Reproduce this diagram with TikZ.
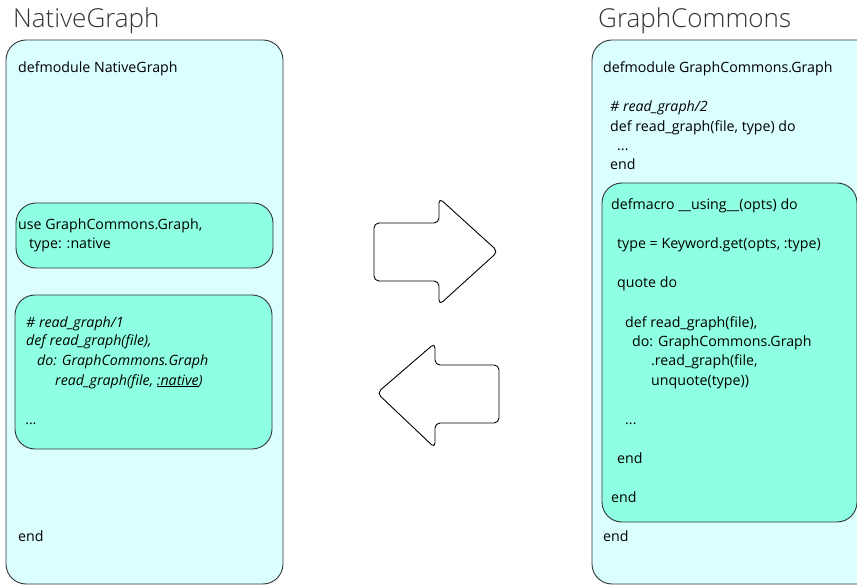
\documentclass[tikz,border=0pt]{standalone}
\usepackage{fontspec}
\setmainfont{Open Sans}
\newfontfamily\titlefont{Open Sans Light}
\definecolor{modfill}{HTML}{DBFEFF}
\definecolor{blockfill}{HTML}{8FFFE1}
\definecolor{edge}{HTML}{333333}
\tikzset{
  code/.style={anchor=base west,inner sep=0pt,font=\fontsize{14.2}{17}\selectfont},
  title/.style={anchor=base west,inner sep=0pt,font=\titlefont\fontsize{26}{31}\selectfont,text=black!80},
  module/.style={draw=edge,fill=modfill,line width=0.9pt,rounded corners=20pt},
  block/.style={draw=edge,fill=blockfill,line width=0.9pt,rounded corners=20pt},
  bigarrow/.style={draw=black,fill=white,line width=0.9pt,rounded corners=5pt}
}
\begin{document}
\begin{tikzpicture}[x=1pt,y=-1pt]
\useasboundingbox (0,0) rectangle (857,585);
\clip (0,0) rectangle (857,585);

% titles
\node[title] (tnative) at (13,28) {NativeGraph};
\node[title] (tcommons) at (598,28) {GraphCommons};

% module boxes
\draw[module] (6,40) rectangle (283,584);
\draw[module] (592,40) rectangle (880,584);

% left module
\draw[block] (16,203) rectangle (273,268);
\draw[block] (15,295) rectangle (272,449);

\node[code] (n1) at (18,73) {defmodule NativeGraph};
\node[code] (n2) at (18,230) {use GraphCommons.Graph,};
\node[code] (n3) at (29,249) {type: :native};
\node[code] (n4) at (26,327) {\itshape \# read\_graph/1};
\node[code] (n5) at (26,346) {\itshape def read\_graph(file),};
\node[code] (n6) at (37,366) {\itshape do: GraphCommons.Graph};
\node[code] (n7) at (55,385) {\itshape read\_graph(file, \underline{:native})};
\node[code] (n8) at (26,424) {\itshape ...};
\node[code] (n9) at (18,541) {end};

% right module
\draw[block] (602,183) rectangle (857,522);

\node[code] (c1) at (603,73) {defmodule GraphCommons.Graph};
\node[code] (c2) at (610,112) {\itshape \# read\_graph/2};
\node[code] (c3) at (610,132) {def read\_graph(file, type) do};
\node[code] (c4) at (617,151) {...};
\node[code] (c5) at (610,170) {end};
\node[code] (c6) at (611,210) {defmacro \_\_using\_\_(opts) do};
\node[code] (c7) at (617,249) {type = Keyword.get(opts, :type)};
\node[code] (c8) at (617,288) {quote do};
\node[code] (c9) at (625,327) {def read\_graph(file),};
\node[code] (c10) at (632,346.5) {do: GraphCommons.Graph};
\node[code] (c11) at (651,366) {.read\_graph(file,};
\node[code] (c12) at (651,385.5) {unquote(type))};
\node[code] (c13) at (625,424.5) {...};
\node[code] (c14) at (617,463.5) {end};
\node[code] (c15) at (611,502.5) {end};
\node[code] (c16) at (603,541.5) {end};

% arrows between modules
\draw[bigarrow] (374,223) -- (439,223) -- (439,198) -- (498,251.5) -- (439,305)
  -- (439,281) -- (374,281) -- cycle;
\draw[bigarrow] (499,365) -- (435,365) -- (435,343) -- (377,393) -- (435,448)
  -- (435,423) -- (499,423) -- cycle;
\end{tikzpicture}
\end{document}
